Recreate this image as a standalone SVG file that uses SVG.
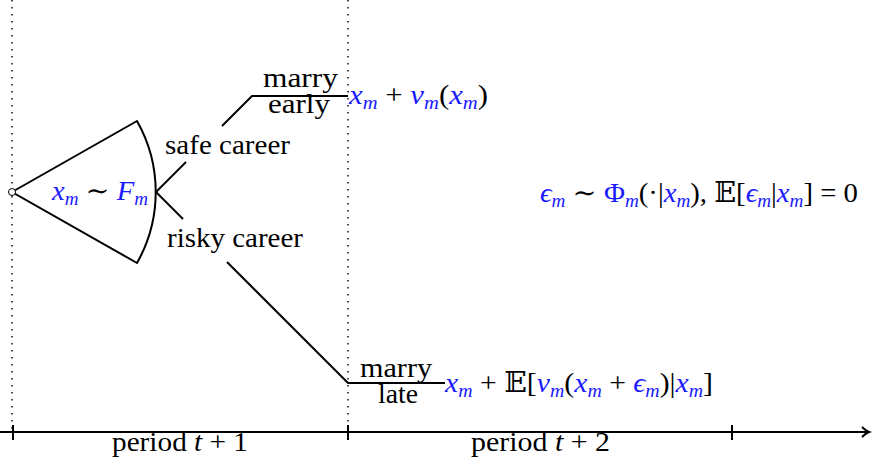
<svg xmlns="http://www.w3.org/2000/svg" width="875" height="459" viewBox="0 0 875 459">
<style>
text{font-family:"Liberation Serif","DejaVu Serif",serif;font-size:27px;fill:#000}
.m{fill:#1a1aff;font-style:italic}
.u{font-style:normal}
.i{font-style:italic}
.s{font-size:18px}
.ln{stroke:#000;stroke-width:2;fill:none}
.dot{stroke:#000;stroke-width:1.4;stroke-dasharray:1.4 5.6;fill:none}
</style>
<g id="guides">
<line class="dot" x1="12" y1="0" x2="12" y2="430"/>
<line class="dot" x1="348" y1="0" x2="348" y2="430"/>
</g>
<g id="axis">
<line class="ln" x1="0" y1="432" x2="868" y2="432"/>
<path class="ln" d="M862,427 Q866,431 869,432 Q866,433 862,437" stroke-width="1.5"/>
<line class="ln" x1="13" y1="425" x2="13" y2="440"/>
<line class="ln" x1="348" y1="425" x2="348" y2="440"/>
<line class="ln" x1="732" y1="425" x2="732" y2="440"/>
<text x="112" y="451" textLength="136" lengthAdjust="spacingAndGlyphs">period <tspan class="i">t</tspan> + 1</text>
<text x="471" y="451" textLength="139" lengthAdjust="spacingAndGlyphs">period <tspan class="i">t</tspan> + 2</text>
</g>
<g id="connectors">
<polyline class="ln" points="156,192 186,162"/>
<polyline class="ln" points="222,126 252,96 348,96"/>
<polyline class="ln" points="156,192 183,219"/>
<polyline class="ln" points="227,262 348,383 445,383"/>
</g>
<g id="root">
<path class="ln" d="M12,192 L137,121 A144,144 0 0 1 137,263 Z"/>
<circle cx="12" cy="192" r="3.5" fill="#fff" stroke="#000" stroke-width="1"/>
<text x="52" y="200" textLength="96" lengthAdjust="spacingAndGlyphs"><tspan class="m">x</tspan><tspan class="m s" dy="5">m</tspan><tspan dy="-5"> ∼ </tspan><tspan class="m">F</tspan><tspan class="m s" dy="5">m</tspan></text>
</g>
<g id="safe">
<text x="165" y="154" textLength="125" lengthAdjust="spacingAndGlyphs">safe career</text>
</g>
<g id="risky">
<text x="167" y="247" textLength="136" lengthAdjust="spacingAndGlyphs">risky career</text>
</g>
<g id="early">
<text x="263" y="87" textLength="75" lengthAdjust="spacingAndGlyphs">marry</text>
<text x="268" y="113" textLength="62" lengthAdjust="spacingAndGlyphs">early</text>
<text x="349" y="104" textLength="139" lengthAdjust="spacingAndGlyphs"><tspan class="m">x</tspan><tspan class="m s" dy="5">m</tspan><tspan dy="-5"> + </tspan><tspan class="m">v</tspan><tspan class="m s" dy="5">m</tspan><tspan dy="-5">(</tspan><tspan class="m">x</tspan><tspan class="m s" dy="5">m</tspan><tspan dy="-5">)</tspan></text>
</g>
<g id="late">
<text x="360" y="377" textLength="72" lengthAdjust="spacingAndGlyphs">marry</text>
<text x="378" y="403" textLength="40" lengthAdjust="spacingAndGlyphs">late</text>
<text x="445" y="392" textLength="268" lengthAdjust="spacingAndGlyphs"><tspan class="m">x</tspan><tspan class="m s" dy="5">m</tspan><tspan dy="-5"> + 𝔼[</tspan><tspan class="m">v</tspan><tspan class="m s" dy="5">m</tspan><tspan dy="-5">(</tspan><tspan class="m">x</tspan><tspan class="m s" dy="5">m</tspan><tspan dy="-5"> + </tspan><tspan class="m">ϵ</tspan><tspan class="m s" dy="5">m</tspan><tspan dy="-5">)|</tspan><tspan class="m">x</tspan><tspan class="m s" dy="5">m</tspan><tspan dy="-5">]</tspan></text>
</g>
<g id="noise">
<text x="540" y="202" textLength="318" lengthAdjust="spacingAndGlyphs"><tspan class="m">ϵ</tspan><tspan class="m s" dy="5">m</tspan><tspan dy="-5"> ∼ </tspan><tspan class="m u">Φ</tspan><tspan class="m s" dy="5">m</tspan><tspan dy="-5">(·|</tspan><tspan class="m">x</tspan><tspan class="m s" dy="5">m</tspan><tspan dy="-5">), 𝔼[</tspan><tspan class="m">ϵ</tspan><tspan class="m s" dy="5">m</tspan><tspan dy="-5">|</tspan><tspan class="m">x</tspan><tspan class="m s" dy="5">m</tspan><tspan dy="-5">] = 0</tspan></text>
</g>
</svg>
